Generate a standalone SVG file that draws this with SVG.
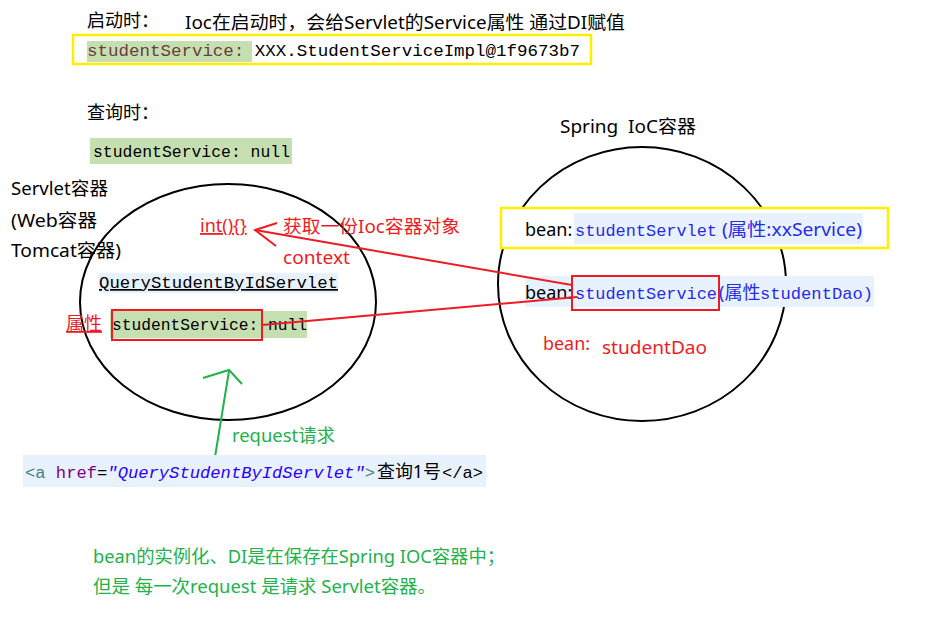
<svg xmlns="http://www.w3.org/2000/svg" width="927" height="623" viewBox="0 0 927 623">
<style>
.s{font-family:"Noto Sans","Noto Sans CJK SC",sans-serif;font-size:18px;fill:#000}
.m{font-family:"Liberation Mono","DejaVu Sans Mono",monospace;font-size:17px;fill:#000}
.red{fill:#ed1c24}
.grn{fill:#22b14c}
.blue{fill:#2a2ae6}
.ell{fill:none;stroke:#000;stroke-width:2}
.rl{stroke:#ed1c24;stroke-width:2;fill:none}
.gl{stroke:#22b14c;stroke-width:2;fill:none}
.hg{fill:#c6dfb1}
.hb{fill:#e8f2fe}
.yb{fill:#fff;stroke:#ffee00;stroke-width:2.5}
</style>
<rect width="927" height="623" fill="#fff"/>

<g id="startup">
<text class="s" x="87" y="27" font-size="17">启动时：</text>
<text class="s" x="185" y="29" textLength="440" lengthAdjust="spacingAndGlyphs">Ioc在启动时，会给Servlet的Service属性 通过DI赋值</text>
<rect class="yb" x="73" y="35" width="518" height="29"/>
<rect class="hg" x="87" y="41" width="165" height="21"/>
<text class="m" x="87" y="56" textLength="493" lengthAdjust="spacingAndGlyphs"><tspan fill="#6a3e3e">studentService: </tspan>XXX.StudentServiceImpl@1f9673b7</text>
</g>

<g id="query">
<text class="s" x="87" y="119" font-size="17">查询时：</text>
<rect class="hg" x="90" y="138" width="202" height="26"/>
<text class="m" x="93" y="157" textLength="197" lengthAdjust="spacingAndGlyphs">studentService: null</text>
</g>

<g id="servlet-container">
<ellipse class="ell" cx="228" cy="302" rx="148" ry="118"/>
<text class="s" x="11" y="195" textLength="97" lengthAdjust="spacingAndGlyphs">Servlet容器</text>
<text class="s" x="11" y="227" textLength="86" lengthAdjust="spacingAndGlyphs">(Web容器</text>
<text class="s" x="11" y="257" textLength="110" lengthAdjust="spacingAndGlyphs">Tomcat容器)</text>
<text class="s red" x="200" y="232" text-decoration="underline">int(){}</text>
<text class="s red" x="283" y="233" textLength="177" lengthAdjust="spacingAndGlyphs">获取一份Ioc容器对象</text>
<text class="s red" x="283" y="264" textLength="67" lengthAdjust="spacingAndGlyphs">context</text>
<rect class="hb" x="99" y="273" width="239" height="20"/>
<text class="m" x="99" y="288" textLength="239" lengthAdjust="spacingAndGlyphs" text-decoration="underline">QueryStudentByIdServlet</text>
<text class="s red" x="66" y="330" text-decoration="underline">属性</text>
<rect class="hg" x="110" y="311" width="197" height="27"/>
<text class="m" x="112" y="330" textLength="195" lengthAdjust="spacingAndGlyphs">studentService: null</text>
<rect x="112" y="310" width="150" height="30" fill="none" stroke="#ed1c24" stroke-width="2"/>
</g>

<g id="ioc-container">
<ellipse class="ell" cx="642" cy="284" rx="144" ry="137"/>
<text class="s" x="560" y="133" xml:space="preserve" textLength="136" lengthAdjust="spacingAndGlyphs">Spring  IoC容器</text>
<rect class="yb" x="501" y="208" width="387" height="40"/>
<rect class="hb" x="574" y="213" width="289" height="31"/>
<text class="s" x="525" y="236">bean:</text>
<text class="m blue" x="575" y="236" textLength="142" lengthAdjust="spacingAndGlyphs">studentServlet</text>
<text class="s blue" x="722" y="236" textLength="140" lengthAdjust="spacingAndGlyphs">(属性:xxService)</text>
<rect class="hb" x="525" y="276" width="349" height="31"/>
<text class="s" x="525" y="299">bean:</text>
<text class="m blue" x="575" y="299" textLength="142" lengthAdjust="spacingAndGlyphs">studentService</text>
<text class="s blue" x="719" y="299">(属性</text>
<text class="m blue" x="760" y="299" textLength="113" lengthAdjust="spacingAndGlyphs">studentDao)</text>
<rect x="572" y="276" width="147" height="34" fill="none" stroke="#ed1c24" stroke-width="2"/>
<text class="s red" x="543" y="350" textLength="47" lengthAdjust="spacingAndGlyphs">bean:</text>
<text class="s red" x="602" y="354" font-size="20" textLength="105" lengthAdjust="spacingAndGlyphs">studentDao</text>
</g>

<g id="connectors">
<line class="rl" x1="572" y1="285" x2="255" y2="230"/>
<polyline class="rl" points="277,223 255,230 276,246"/>
<line class="rl" x1="262" y1="325" x2="577" y2="297"/>
<line class="gl" x1="214" y1="463" x2="229" y2="371"/>
<polyline class="gl" points="203,378 229,370 242,384"/>
</g>

<g id="request">
<text class="s grn" x="232" y="442" textLength="103" lengthAdjust="spacingAndGlyphs">request请求</text>
<rect class="hb" x="23" y="455" width="463" height="32"/>
<text class="m" x="25" y="478" textLength="350" lengthAdjust="spacingAndGlyphs"><tspan fill="#3f7f7f">&lt;a </tspan><tspan fill="#7f007f">href</tspan>=<tspan fill="#2a00ff" font-style="italic">"QueryStudentByIdServlet"</tspan><tspan fill="#3f7f7f">&gt;</tspan></text>
<text class="s" x="377" y="478" textLength="64" lengthAdjust="spacingAndGlyphs">查询1号</text>
<text class="m" x="442" y="478" fill="#3f7f7f" textLength="41" lengthAdjust="spacingAndGlyphs">&lt;/a&gt;</text>
</g>

<g id="note">
<text class="s grn" x="93" y="563" textLength="412" lengthAdjust="spacingAndGlyphs">bean的实例化、DI是在保存在Spring IOC容器中；</text>
<text class="s grn" x="93" y="593" textLength="343" lengthAdjust="spacingAndGlyphs">但是 每一次request 是请求 Servlet容器。</text>
</g>
</svg>
